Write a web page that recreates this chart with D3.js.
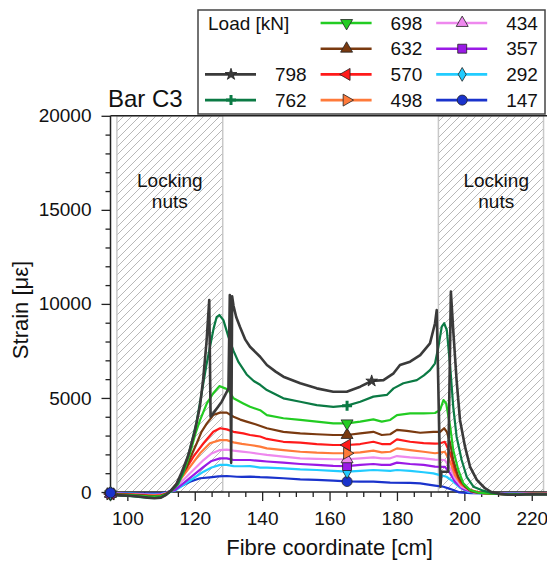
<!DOCTYPE html>
<html><head><meta charset="utf-8">
<script src="https://cdn.jsdelivr.net/npm/d3@7"></script>
<style>body{margin:0;background:#fff} text{font-family:"Liberation Sans",Arial,sans-serif;fill:#111}</style>
</head><body><svg id="c" width="547" height="563"></svg>
<script>
// ---------- data ----------
const loads = ["798","762","698","632","570","498","434","357","292","147"];
const colors = ["#3a3a3a","#0b7a44","#22cc22","#7a3a10","#ff1a1a","#ff7a3a","#ee88ee","#9a1ae6","#22ccff","#1a33cc"];
const symbols = ["star","plus","down","up","left","right","up","square","diamond","circle"];
const markerX = [172.5,165.2,165.2,165.2,165.2,165.2,165.2,165.2,165.2,165.2];
const nutZones = [[96.9,128.3],[192.3,223.5]];
const xMajor = [100,120,140,160,180,200,220];
const yMajor = [0,5000,10000,15000,20000];

const s798 = [[95,-150],[98,-180],[101,-200],[104,-250],[106,-300],[108,-330],[110,-300],[111.5,-150],[113,100],[114.5,400],[116,1000],[118,1900],[120,3200],[121.5,4500],[122.5,6000],[123.5,8000],[124.3,10200],[124.7,4000],[126,4300],[128,4800],[130,5500],[130.4,10470],[130.8,1550],[131.1,10400],[131.5,9900],[132.3,9300],[133.4,8790],[135,8100],[136.4,7720],[139.4,7190],[141.4,6750],[144,6400],[146.3,6130],[151.3,5780],[156.2,5510],[161.1,5330],[165.1,5330],[169.1,5600],[172.5,5900],[176,5950],[179,6310],[180.9,6750],[183.9,6930],[186.9,7280],[189.8,7900],[191.3,8970],[191.8,9670],[192.9,280],[193.2,1080],[195.2,1080],[196,10650],[196.7,8610],[197.7,5950],[198.7,3830],[200.2,2410],[201.7,1340],[203.7,640],[206.1,200],[208,0],[210.6,-100],[213,-150],[216,-150],[220,-120],[225,-130]];
const s762 = [[95,-150],[98,-200],[101,-220],[104,-270],[106,-300],[108,-320],[110,-280],[111.5,-150],[113,50],[115,450],[116.6,1100],[118.6,2300],[120.5,3700],[122.1,5300],[123.4,6700],[124.5,7700],[125.6,8700],[126.5,9300],[127.3,9410],[128.5,9140],[130,8250],[131.5,7500],[133,6900],[135.4,6250],[137.5,5900],[139.4,5700],[141.4,5420],[146.3,4980],[151.3,4800],[156.2,4620],[161.1,4530],[165.2,4590],[169.1,4800],[173,5070],[177,5160],[179,5510],[181.9,5780],[185.9,5950],[188,6200],[189.8,6480],[191.3,6840],[192.3,7720],[193.3,8790],[194,8970],[194.8,8610],[195.8,6660],[196.7,4530],[197.7,2940],[199.2,1700],[200.7,810],[202.7,280],[205.6,70],[208,-50],[210.6,-100],[214,-150],[218,-130],[222,-120],[225,-130]];
const s698 = [[95,-120],[98,-150],[101,-170],[104,-200],[106,-230],[108,-250],[110,-220],[111.5,-120],[113,50],[115,400],[116.6,1000],[118.6,2060],[120.2,3100],[121.6,3830],[123.6,4710],[125.5,5250],[127.3,5630],[129,5510],[130,5420],[131.5,4980],[134.4,4710],[136.4,4530],[139.4,4350],[141.4,4090],[146.3,3920],[151.3,3830],[156.2,3740],[161.1,3650],[165.2,3650],[169.1,3740],[173,3860],[175.5,3740],[178,3830],[180,4090],[183.9,4180],[187.9,4180],[191.3,4200],[192.8,4360],[193.8,4890],[194.6,4710],[195.8,3470],[196.7,2230],[198.2,1170],[199.7,460],[201.7,110],[204,-30],[206.6,-70],[210,-100],[214,-130],[218,-110],[222,-100],[225,-110]];
const s632 = [[95,-100],[98,-130],[101,-150],[104,-180],[106,-200],[108,-220],[110,-200],[111.5,-100],[113,80],[114.7,460],[116,900],[117.6,1340],[119,1950],[120.6,2590],[122,3200],[123.6,3650],[125.5,4090],[127.5,4220],[129.5,4220],[131.5,4000],[133.5,3850],[135.4,3740],[138,3600],[141.4,3390],[146.3,3200],[151.3,3120],[156.2,3070],[161.1,3030],[165.2,3030],[169.1,3120],[173,3200],[175.5,3030],[178,3070],[180,3300],[182.9,3250],[186.9,3150],[190.8,3200],[192.8,3200],[194,3390],[194.8,3200],[195.8,2590],[196.7,1700],[198.2,810],[200.2,280],[202,30],[203.7,-40],[207,-80],[211,-110],[215,-120],[220,-100],[225,-100]];
const s570 = [[95,-100],[98,-120],[101,-140],[104,-170],[106,-190],[108,-200],[110,-180],[111.5,-90],[113,60],[114.2,280],[116.6,990],[119.6,1880],[122.6,2590],[125.5,3200],[127.5,3390],[129.5,3330],[131.5,3200],[134.4,3120],[136.4,3030],[139.4,2950],[141.4,2820],[146.3,2670],[151.3,2620],[156.2,2550],[161.1,2500],[165.2,2500],[169.1,2550],[173,2670],[175.5,2550],[178,2550],[180,2800],[183.9,2670],[187.9,2600],[191.3,2570],[192.8,2590],[194.2,2670],[195.8,2060],[197.2,1170],[198.7,550],[201.2,140],[204.6,-40],[208,-90],[212,-110],[216,-110],[220,-100],[225,-100]];
const s498 = [[95,-90],[98,-110],[101,-130],[104,-150],[106,-170],[108,-180],[110,-160],[111.5,-80],[113,60],[115.6,640],[118.6,1340],[121.6,2060],[124.5,2590],[127.5,2760],[129.5,2760],[131.5,2640],[134,2560],[136.4,2500],[139.4,2410],[141.4,2320],[146.3,2230],[151.3,2140],[156.2,2090],[161.1,2060],[165.2,2060],[169.1,2110],[173,2200],[175.5,2110],[178,2140],[180,2320],[183.9,2230],[187.9,2140],[191.3,2060],[192.8,2090],[194.2,2140],[195.8,1610],[197.2,900],[199.2,370],[202.7,20],[206,-70],[210,-100],[215,-110],[220,-100],[225,-100]];
const s434 = [[95,-80],[98,-100],[101,-120],[104,-140],[106,-150],[108,-160],[110,-140],[111.5,-70],[112.8,50],[114.2,290],[116.6,640],[119.6,1170],[122.6,1700],[125,2050],[127.5,2230],[129.5,2250],[131.5,2200],[134,2150],[136.4,2100],[139.4,2020],[141.4,1970],[146.3,1880],[151.3,1790],[156.2,1760],[161.1,1740],[165.2,1740],[169.1,1790],[173,1840],[175.5,1790],[178,1790],[180,1910],[183.9,1840],[187.9,1790],[191.3,1720],[194.2,1700],[195.8,1260],[197.2,730],[199.2,280],[202.7,-20],[206,-80],[210,-100],[215,-100],[220,-90],[225,-90]];
const s357 = [[95,-80],[98,-90],[101,-110],[104,-130],[106,-140],[108,-150],[110,-130],[111.5,-60],[112.8,30],[114.2,110],[116.6,460],[119.6,900],[122.6,1340],[125,1650],[127.5,1790],[129.5,1790],[131.5,1700],[134,1700],[136.4,1700],[139.4,1650],[141.4,1620],[146.3,1560],[151.3,1490],[156.2,1440],[161.1,1390],[165.2,1380],[169.1,1440],[173,1490],[175.5,1440],[178,1440],[180,1560],[183.9,1490],[187.9,1440],[191.3,1350],[194.2,1340],[195.8,990],[197.2,550],[199.5,160],[202.7,-20],[206,-70],[210,-90],[215,-100],[220,-90],[225,-90]];
const s292 = [[95,-60],[98,-80],[101,-90],[104,-110],[106,-120],[108,-130],[110,-110],[111.5,-50],[112.8,20],[114.2,80],[116.6,370],[119.6,730],[122.6,1080],[125,1300],[127.5,1440],[129.5,1440],[131.5,1380],[134,1370],[136.4,1380],[139.4,1300],[141.4,1300],[146.3,1260],[151.3,1200],[156.2,1170],[161.1,1120],[165.2,1080],[169.1,1120],[173,1170],[178,1120],[180,1170],[183.9,1120],[187.9,1050],[190.8,990],[192.8,900],[194.7,810],[196.7,550],[198.7,230],[201,20],[204,-50],[208,-80],[212,-90],[217,-90],[221,-80],[225,-80]];
const s147 = [[95,-40],[98,-60],[101,-70],[104,-80],[106,-90],[108,-90],[110,-70],[111.7,-20],[113.5,100],[115.6,280],[118.6,550],[121.6,730],[124.5,780],[127,830],[129.5,850],[132.5,810],[134,800],[136.4,820],[139.4,790],[141.4,780],[146.3,730],[151.3,670],[156.2,640],[161.1,600],[165.2,560],[169.1,550],[173,550],[178,500],[183.9,480],[186.9,460],[189.8,380],[191.3,340],[193.8,280],[195.5,180],[196.7,110],[198.5,-20],[202,-60],[206,-70],[210,-80],[215,-80],[220,-70],[225,-70]];
const seriesData = [s798,s762,s698,s632,s570,s498,s434,s357,s292,s147];

// ---------- chart ----------
const svg = d3.select("#c");
const x = d3.scaleLinear().domain([95,225]).range([110.5,548.6]);
const y = d3.scaleLinear().domain([0,20000]).range([492,115.8]);
const font = "Liberation Sans, Arial, sans-serif";

const defs = svg.append("defs");
const pat = defs.append("pattern").attr("id","hatch").attr("patternUnits","userSpaceOnUse")
  .attr("width",8).attr("height",8);
pat.append("path").attr("d","M-2,2 l4,-4 M0,8 l8,-8 M6,10 l4,-4")
  .attr("stroke","#b8b8b8").attr("stroke-width",1);

// locking nut zones
svg.append("g").selectAll("rect").data(nutZones).join("rect")
  .attr("x",d=>x(d[0])).attr("width",d=>x(d[1])-x(d[0]))
  .attr("y",y(20000)).attr("height",y(0)-y(20000))
  .attr("fill","url(#hatch)").attr("stroke","#c8c8c8").attr("stroke-width",1.5);

svg.append("g").selectAll("text").data(nutZones).join("text")
  .attr("text-anchor","middle").attr("font-size",19)
  .attr("x",(d,i)=> i===0 ? x((d[0]+d[1])/2) : x(d[0]+ (d[1]-d[0])*0.55))
  .attr("y",187)
  .each(function(){
    const t=d3.select(this);
    const cx=t.attr("x");
    t.append("tspan").attr("x",cx).text("Locking");
    t.append("tspan").attr("x",cx).attr("dy",21).text("nuts");
  });

// axes
const gx = svg.append("g").attr("transform",`translate(0,${y(0)})`);
gx.call(d3.axisBottom(x).tickValues(xMajor).tickSize(9).tickPadding(11).tickFormat(d3.format("d")));
gx.append("g").call(d3.axisBottom(x).tickValues(d3.range(95,226,5).filter(v=>v%20!==0)).tickSize(5).tickFormat(""));
const gy = svg.append("g").attr("transform",`translate(${x(95)},0)`);
gy.call(d3.axisLeft(y).tickValues(yMajor).tickSize(9).tickPadding(10).tickFormat(d3.format("d")));
gy.append("g").call(d3.axisLeft(y).tickValues(d3.range(0,20001,1000).filter(v=>v%5000!==0)).tickSize(5).tickFormat(""));
svg.selectAll(".domain").remove();
svg.selectAll(".tick line").attr("stroke","#222").attr("stroke-width",1.3);
svg.selectAll(".tick text").attr("font-size",19).attr("font-family",font).attr("fill","#111");

// frame lines
svg.append("line").attr("x1",x(95)).attr("x2",547).attr("y1",y(0)).attr("y2",y(0)).attr("stroke","#222").attr("stroke-width",1.5);
svg.append("line").attr("x1",x(95)).attr("x2",x(95)).attr("y1",y(0)).attr("y2",y(20000)).attr("stroke","#222").attr("stroke-width",1.5);
svg.append("line").attr("x1",x(95)).attr("x2",547).attr("y1",y(20000)).attr("y2",y(20000)).attr("stroke","#222").attr("stroke-width",1.5);

// curves (lowest load first)
const line = d3.line().x(d=>x(d[0])).y(d=>y(d[1]));
const order = d3.range(loads.length).reverse();
svg.append("g").selectAll("path").data(order).join("path")
  .attr("d",i=>line(seriesData[i])).attr("fill","none")
  .attr("stroke",i=>colors[i]).attr("stroke-width",i=>i===0?2.6:2.2)
  .attr("stroke-linejoin","round");

// markers
function markerPath(sym){
  switch(sym){
    case "star": return {d:d3.symbol(d3.symbolStar,42)(), r:0};
    case "plus": return {d:"M-5,0H5M0,-5V5", r:0, stroke:true};
    case "down": return {d:d3.symbol(d3.symbolTriangle,62)(), r:180};
    case "up": return {d:d3.symbol(d3.symbolTriangle,62)(), r:0};
    case "left": return {d:d3.symbol(d3.symbolTriangle,62)(), r:-90};
    case "right": return {d:d3.symbol(d3.symbolTriangle,62)(), r:90};
    case "square": return {d:d3.symbol(d3.symbolSquare,80)(), r:0};
    case "diamond": return {d:d3.symbol(d3.symbolDiamond,55)(), r:0};
    case "circle": return {d:d3.symbol(d3.symbolCircle,80)(), r:0};
  }
}
function drawMarker(g,i,px,py){
  const m = markerPath(symbols[i]);
  const p = g.append("path").attr("d",m.d).attr("transform",`translate(${px},${py}) rotate(${m.r})`);
  if(m.stroke) p.attr("fill","none").attr("stroke",colors[i]).attr("stroke-width",3);
  else p.attr("fill",colors[i]).attr("stroke","#222").attr("stroke-width",0.8);
}
const gm = svg.append("g");
d3.range(loads.length).forEach(i=>{
  const s = seriesData[i];
  drawMarker(gm,i,x(s[0][0]),y(s[0][1]));
});
order.forEach(i=>{
  const s = seriesData[i];
  const pt = s.reduce((a,b)=>Math.abs(b[0]-markerX[i])<Math.abs(a[0]-markerX[i])?b:a);
  drawMarker(gm,i,x(pt[0]),y(pt[1]));
});

// axis titles
svg.append("text").attr("x",(x(95)+x(225))/2).attr("y",555).attr("text-anchor","middle")
  .attr("font-size",22).text("Fibre coordinate [cm]");
svg.append("text").attr("transform","translate(28,310) rotate(-90)").attr("text-anchor","middle")
  .attr("font-size",22).text("Strain [με]");
svg.append("text").attr("x",108).attr("y",107).attr("font-size",24).text("Bar C3");

// legend
const lg = svg.append("g");
lg.append("rect").attr("x",198).attr("y",10).attr("width",347).attr("height",104)
  .attr("fill","#fff").attr("stroke","#444").attr("stroke-width",1.5);
const rowY = r => 23 + r*25.7;
lg.append("text").attr("x",208).attr("y",rowY(0)).attr("dy","0.35em").attr("font-size",19).text("Load [kN]");
loads.forEach((L,i)=>{
  const col = i<2 ? 0 : (i<6 ? 1 : 2);
  const row = i<2 ? i+2 : (i<6 ? i-2 : i-6);
  const x0 = 205 + col*115.6, yy = rowY(row);
  lg.append("line").attr("x1",x0).attr("x2",x0+51).attr("y1",yy).attr("y2",yy)
    .attr("stroke",colors[i]).attr("stroke-width",2.6);
  drawMarker(lg,i,x0+26,yy);
  lg.append("text").attr("x",x0+101.7).attr("y",yy).attr("dy","0.35em").attr("text-anchor","end")
    .attr("font-size",19).text(L);
});
</script></body></html>
